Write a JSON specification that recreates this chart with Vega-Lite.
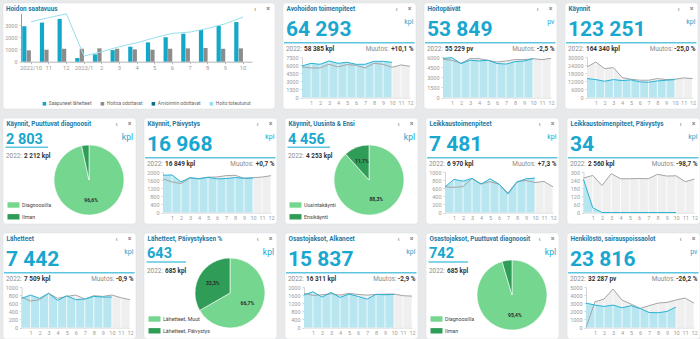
{
"$schema":"https://vega.github.io/schema/vega-lite/v6.json",
"background":"#e7e9ea",
"padding":{"left":2,"top":2,"right":0,"bottom":0},
"datasets":{
"hdr":[
{"p":"hs","t":"Hoidon saatavuus"},
{"p":"avo","t":"Avohoidon toimenpiteet","n":"64 293","u":"kpl","yl":"2022:","pv":"58 385 kpl","ml":"Muutos:","mv":"+10,1 %"},
{"p":"hp","t":"Hoitopäivät","n":"53 849","u":"pv","yl":"2022:","pv":"55 229 pv","ml":"Muutos:","mv":"-2,5 %"},
{"p":"kay","t":"Käynnit","n":"123 251","u":"kpl","yl":"2022:","pv":"164 340 kpl","ml":"Muutos:","mv":"-25,0 %"},
{"p":"kpd","t":"Käynnit, Puuttuvat diagnoosit","n":"2 803","u":"kpl","yl":"2022:","pv":"2 212 kpl"},
{"p":"kp","t":"Käynnit, Päivystys","n":"16 968","u":"kpl","yl":"2022:","pv":"16 849 kpl","ml":"Muutos:","mv":"+0,7 %"},
{"p":"kue","t":"Käynnit, Uusinta & Ensi","n":"4 456","u":"kpl","yl":"2022:","pv":"4 253 kpl"},
{"p":"lt","t":"Leikkaustoimenpiteet","n":"7 481","u":"kpl","yl":"2022:","pv":"6 970 kpl","ml":"Muutos:","mv":"+7,3 %"},
{"p":"ltp","t":"Leikkaustoimenpiteet, Päivystys","n":"34","u":"kpl","yl":"2022:","pv":"2 560 kpl","ml":"Muutos:","mv":"-98,7 %"},
{"p":"lah","t":"Lähetteet","n":"7 442","u":"kpl","yl":"2022:","pv":"7 509 kpl","ml":"Muutos:","mv":"-0,9 %"},
{"p":"lahp","t":"Lähetteet, Päivystyksen %","n":"643","u":"kpl","yl":"2022:","pv":"685 kpl"},
{"p":"oa","t":"Osastojaksot, Alkaneet","n":"15 837","u":"kpl","yl":"2022:","pv":"16 311 kpl","ml":"Muutos:","mv":"-2,9 %"},
{"p":"opd","t":"Osastojaksot, Puuttuvat diagnoosit","n":"742","u":"kpl","yl":"2022:","pv":"685 kpl"},
{"p":"hen","t":"Henkilöstö, sairauspoissaolot","n":"23 816","u":"pv","yl":"2022:","pv":"32 287 pv","ml":"Muutos:","mv":"-26,2 %"}
],
"hs":[
{"k":"2022/10","s":"Saapuneet lähetteet","v":2900},{"k":"2022/10","s":"Hoitoa odottavat","v":930},{"k":"2022/10","s":"Hoito toteutunut","v":3270},
{"k":"11","s":"Saapuneet lähetteet","v":3200},{"k":"11","s":"Hoitoa odottavat","v":980},{"k":"11","s":"Hoito toteutunut","v":3600},
{"k":"12","s":"Saapuneet lähetteet","v":3500},{"k":"12","s":"Hoitoa odottavat","v":1060},{"k":"12","s":"Hoito toteutunut","v":3920},
{"k":"2023/1","s":"Saapuneet lähetteet","v":300},{"k":"2023/1","s":"Hoitoa odottavat","v":1060},{"k":"2023/1","s":"Hoito toteutunut","v":463},
{"k":"2","s":"Saapuneet lähetteet","v":600},{"k":"2","s":"Hoitoa odottavat","v":1090},{"k":"2","s":"Hoito toteutunut","v":817},
{"k":"3","s":"Saapuneet lähetteet","v":950},{"k":"3","s":"Hoitoa odottavat","v":1060},{"k":"3","s":"Hoito toteutunut","v":1226},
{"k":"4","s":"Saapuneet lähetteet","v":1230},{"k":"4","s":"Hoitoa odottavat","v":1010},{"k":"4","s":"Hoito toteutunut","v":1553},
{"k":"5","s":"Saapuneet lähetteet","v":1580},{"k":"5","s":"Hoitoa odottavat","v":980},{"k":"5","s":"Hoito toteutunut","v":1962},
{"k":"6","s":"Saapuneet lähetteet","v":2000},{"k":"6","s":"Hoitoa odottavat","v":1060},{"k":"6","s":"Hoito toteutunut","v":2316},
{"k":"7","s":"Saapuneet lähetteet","v":2290},{"k":"7","s":"Hoitoa odottavat","v":1090},{"k":"7","s":"Hoito toteutunut","v":2425},
{"k":"8","s":"Saapuneet lähetteet","v":2590},{"k":"8","s":"Hoitoa odottavat","v":1120},{"k":"8","s":"Hoito toteutunut","v":2725},
{"k":"9","s":"Saapuneet lähetteet","v":2940},{"k":"9","s":"Hoitoa odottavat","v":1060},{"k":"9","s":"Hoito toteutunut","v":3106},
{"k":"10","s":"Saapuneet lähetteet","v":3240},{"k":"10","s":"Hoitoa odottavat","v":1090},{"k":"10","s":"Hoito toteutunut","v":3651}
],
"pie":[
{"p":"kpd","c":"Diagnoosilla","v":96.6,"lab":"96,6%"},{"p":"kpd","c":"Ilman","v":3.4,"lab":""},
{"p":"kue","c":"Uusintakäynti","v":88.3,"lab":"88,3%"},{"p":"kue","c":"Ensikäynti","v":11.7,"lab":"11,7%"},
{"p":"lahp","c":"Lähetteet, Muut","v":66.7,"lab":"66,7%"},{"p":"lahp","c":"Lähetteet, Päivystys","v":33.3,"lab":"33,3%"},
{"p":"opd","c":"Diagnoosilla","v":95.4,"lab":"95,4%"},{"p":"opd","c":"Ilman","v":4.6,"lab":""}
],
"kpi":[
{"p":"avo","s":"c","m":0,"v":5840},{"p":"avo","s":"c","m":1,"v":6330},{"p":"avo","s":"c","m":2,"v":6150},{"p":"avo","s":"c","m":3,"v":6770},{"p":"avo","s":"c","m":4,"v":6330},{"p":"avo","s":"c","m":5,"v":6520},{"p":"avo","s":"c","m":6,"v":6150},{"p":"avo","s":"c","m":7,"v":6150},{"p":"avo","s":"c","m":8,"v":6700},{"p":"avo","s":"c","m":9,"v":6700},{"p":"avo","s":"c","m":10,"v":6520},
{"p":"avo","s":"g","m":0,"v":5660},{"p":"avo","s":"g","m":1,"v":5470},{"p":"avo","s":"g","m":2,"v":5470},{"p":"avo","s":"g","m":3,"v":6150},{"p":"avo","s":"g","m":4,"v":5660},{"p":"avo","s":"g","m":5,"v":6090},{"p":"avo","s":"g","m":6,"v":5970},{"p":"avo","s":"g","m":7,"v":5470},{"p":"avo","s":"g","m":8,"v":6330},{"p":"avo","s":"g","m":9,"v":6150},{"p":"avo","s":"g","m":10,"v":5600},{"p":"avo","s":"g","m":11,"v":6030},{"p":"avo","s":"g","m":12,"v":5780},
{"p":"hp","s":"c","m":0,"v":5800},{"p":"hp","s":"c","m":1,"v":5900},{"p":"hp","s":"c","m":2,"v":5020},{"p":"hp","s":"c","m":3,"v":5530},{"p":"hp","s":"c","m":4,"v":5410},{"p":"hp","s":"c","m":5,"v":5510},{"p":"hp","s":"c","m":6,"v":5040},{"p":"hp","s":"c","m":7,"v":4950},{"p":"hp","s":"c","m":8,"v":5310},{"p":"hp","s":"c","m":9,"v":5410},{"p":"hp","s":"c","m":10,"v":5750},
{"p":"hp","s":"g","m":0,"v":5660},{"p":"hp","s":"g","m":1,"v":5510},{"p":"hp","s":"g","m":2,"v":5070},{"p":"hp","s":"g","m":3,"v":5760},{"p":"hp","s":"g","m":4,"v":5750},{"p":"hp","s":"g","m":5,"v":5510},{"p":"hp","s":"g","m":6,"v":5260},{"p":"hp","s":"g","m":7,"v":5410},{"p":"hp","s":"g","m":8,"v":5620},{"p":"hp","s":"g","m":9,"v":5610},{"p":"hp","s":"g","m":10,"v":5750},{"p":"hp","s":"g","m":11,"v":5610},{"p":"hp","s":"g","m":12,"v":5800},
{"p":"kay","s":"c","m":0,"v":14020},{"p":"kay","s":"c","m":1,"v":13280},{"p":"kay","s":"c","m":2,"v":12050},{"p":"kay","s":"c","m":3,"v":13280},{"p":"kay","s":"c","m":4,"v":12550},{"p":"kay","s":"c","m":5,"v":13040},{"p":"kay","s":"c","m":6,"v":11560},{"p":"kay","s":"c","m":7,"v":11320},{"p":"kay","s":"c","m":8,"v":12300},{"p":"kay","s":"c","m":9,"v":12790},{"p":"kay","s":"c","m":10,"v":13280},
{"p":"kay","s":"g","m":0,"v":22630},{"p":"kay","s":"g","m":1,"v":26320},{"p":"kay","s":"g","m":2,"v":21400},{"p":"kay","s":"g","m":3,"v":22140},{"p":"kay","s":"g","m":4,"v":14760},{"p":"kay","s":"g","m":5,"v":13530},{"p":"kay","s":"g","m":6,"v":12790},{"p":"kay","s":"g","m":7,"v":12790},{"p":"kay","s":"g","m":8,"v":14020},{"p":"kay","s":"g","m":9,"v":13280},{"p":"kay","s":"g","m":10,"v":13530},{"p":"kay","s":"g","m":11,"v":14510},{"p":"kay","s":"g","m":12,"v":14020},
{"p":"kp","s":"c","m":0,"v":1840},{"p":"kp","s":"c","m":1,"v":1855},{"p":"kp","s":"c","m":2,"v":1510},{"p":"kp","s":"c","m":3,"v":1720},{"p":"kp","s":"c","m":4,"v":1660},{"p":"kp","s":"c","m":5,"v":1740},{"p":"kp","s":"c","m":6,"v":1660},{"p":"kp","s":"c","m":7,"v":1675},{"p":"kp","s":"c","m":8,"v":1725},{"p":"kp","s":"c","m":9,"v":1690},{"p":"kp","s":"c","m":10,"v":1700},
{"p":"kp","s":"g","m":0,"v":1660},{"p":"kp","s":"g","m":1,"v":1510},{"p":"kp","s":"g","m":2,"v":1430},{"p":"kp","s":"g","m":3,"v":1705},{"p":"kp","s":"g","m":4,"v":1675},{"p":"kp","s":"g","m":5,"v":1740},{"p":"kp","s":"g","m":6,"v":1755},{"p":"kp","s":"g","m":7,"v":1820},{"p":"kp","s":"g","m":8,"v":1840},{"p":"kp","s":"g","m":9,"v":1690},{"p":"kp","s":"g","m":10,"v":1720},{"p":"kp","s":"g","m":11,"v":1750},{"p":"kp","s":"g","m":12,"v":1820},
{"p":"lt","s":"c","m":0,"v":633},{"p":"lt","s":"c","m":1,"v":817},{"p":"lt","s":"c","m":2,"v":775},{"p":"lt","s":"c","m":3,"v":842},{"p":"lt","s":"c","m":4,"v":700},{"p":"lt","s":"c","m":5,"v":833},{"p":"lt","s":"c","m":6,"v":700},{"p":"lt","s":"c","m":7,"v":458},{"p":"lt","s":"c","m":8,"v":750},{"p":"lt","s":"c","m":9,"v":833},{"p":"lt","s":"c","m":10,"v":850},
{"p":"lt","s":"g","m":0,"v":633},{"p":"lt","s":"g","m":1,"v":620},{"p":"lt","s":"g","m":2,"v":640},{"p":"lt","s":"g","m":3,"v":842},{"p":"lt","s":"g","m":4,"v":708},{"p":"lt","s":"g","m":5,"v":760},{"p":"lt","s":"g","m":6,"v":700},{"p":"lt","s":"g","m":7,"v":483},{"p":"lt","s":"g","m":8,"v":767},{"p":"lt","s":"g","m":9,"v":790},{"p":"lt","s":"g","m":10,"v":740},{"p":"lt","s":"g","m":11,"v":767},{"p":"lt","s":"g","m":12,"v":633},
{"p":"ltp","s":"c","m":0,"v":245},{"p":"ltp","s":"c","m":1,"v":35},{"p":"ltp","s":"c","m":2,"v":0},{"p":"ltp","s":"c","m":3,"v":0},{"p":"ltp","s":"c","m":4,"v":0},{"p":"ltp","s":"c","m":5,"v":0},{"p":"ltp","s":"c","m":6,"v":0},{"p":"ltp","s":"c","m":7,"v":0},{"p":"ltp","s":"c","m":8,"v":0},{"p":"ltp","s":"c","m":9,"v":0},{"p":"ltp","s":"c","m":10,"v":0},
{"p":"ltp","s":"g","m":0,"v":255},{"p":"ltp","s":"g","m":1,"v":275},{"p":"ltp","s":"g","m":2,"v":200},{"p":"ltp","s":"g","m":3,"v":288},{"p":"ltp","s":"g","m":4,"v":250},{"p":"ltp","s":"g","m":5,"v":250},{"p":"ltp","s":"g","m":6,"v":252},{"p":"ltp","s":"g","m":7,"v":250},{"p":"ltp","s":"g","m":8,"v":283},{"p":"ltp","s":"g","m":9,"v":270},{"p":"ltp","s":"g","m":10,"v":272},{"p":"ltp","s":"g","m":11,"v":228},{"p":"ltp","s":"g","m":12,"v":248},
{"p":"lah","s":"c","m":0,"v":719},{"p":"lah","s":"c","m":1,"v":802},{"p":"lah","s":"c","m":2,"v":719},{"p":"lah","s":"c","m":3,"v":843},{"p":"lah","s":"c","m":4,"v":669},{"p":"lah","s":"c","m":5,"v":785},{"p":"lah","s":"c","m":6,"v":686},{"p":"lah","s":"c","m":7,"v":702},{"p":"lah","s":"c","m":8,"v":768},{"p":"lah","s":"c","m":9,"v":752},{"p":"lah","s":"c","m":10,"v":752},
{"p":"lah","s":"g","m":0,"v":752},{"p":"lah","s":"g","m":1,"v":653},{"p":"lah","s":"g","m":2,"v":686},{"p":"lah","s":"g","m":3,"v":843},{"p":"lah","s":"g","m":4,"v":719},{"p":"lah","s":"g","m":5,"v":768},{"p":"lah","s":"g","m":6,"v":802},{"p":"lah","s":"g","m":7,"v":702},{"p":"lah","s":"g","m":8,"v":785},{"p":"lah","s":"g","m":9,"v":768},{"p":"lah","s":"g","m":10,"v":802},{"p":"lah","s":"g","m":11,"v":735},{"p":"lah","s":"g","m":12,"v":686},
{"p":"oa","s":"c","m":0,"v":1600},{"p":"oa","s":"c","m":1,"v":1765},{"p":"oa","s":"c","m":2,"v":1500},{"p":"oa","s":"c","m":3,"v":1733},{"p":"oa","s":"c","m":4,"v":1485},{"p":"oa","s":"c","m":5,"v":1650},{"p":"oa","s":"c","m":6,"v":1535},{"p":"oa","s":"c","m":7,"v":1400},{"p":"oa","s":"c","m":8,"v":1635},{"p":"oa","s":"c","m":9,"v":1617},{"p":"oa","s":"c","m":10,"v":1635},
{"p":"oa","s":"g","m":0,"v":1683},{"p":"oa","s":"g","m":1,"v":1585},{"p":"oa","s":"g","m":2,"v":1617},{"p":"oa","s":"g","m":3,"v":1667},{"p":"oa","s":"g","m":4,"v":1600},{"p":"oa","s":"g","m":5,"v":1683},{"p":"oa","s":"g","m":6,"v":1635},{"p":"oa","s":"g","m":7,"v":1600},{"p":"oa","s":"g","m":8,"v":1635},{"p":"oa","s":"g","m":9,"v":1650},{"p":"oa","s":"g","m":10,"v":1650},{"p":"oa","s":"g","m":11,"v":1570},{"p":"oa","s":"g","m":12,"v":1550},
{"p":"hen","s":"c","m":0,"v":3015},{"p":"hen","s":"c","m":1,"v":2770},{"p":"hen","s":"c","m":2,"v":2600},{"p":"hen","s":"c","m":3,"v":2770},{"p":"hen","s":"c","m":4,"v":2440},{"p":"hen","s":"c","m":5,"v":2690},{"p":"hen","s":"c","m":6,"v":2355},{"p":"hen","s":"c","m":7,"v":1860},{"p":"hen","s":"c","m":8,"v":1820},{"p":"hen","s":"c","m":9,"v":1985},{"p":"hen","s":"c","m":10,"v":2520},
{"p":"hen","s":"g","m":0,"v":0},{"p":"hen","s":"g","m":1,"v":3180},{"p":"hen","s":"g","m":2,"v":3510},{"p":"hen","s":"g","m":3,"v":4750},{"p":"hen","s":"g","m":4,"v":3390},{"p":"hen","s":"g","m":5,"v":2890},{"p":"hen","s":"g","m":6,"v":2355},{"p":"hen","s":"g","m":7,"v":2690},{"p":"hen","s":"g","m":8,"v":3015},{"p":"hen","s":"g","m":9,"v":3100},{"p":"hen","s":"g","m":10,"v":3390},{"p":"hen","s":"g","m":11,"v":3640},{"p":"hen","s":"g","m":12,"v":3015}
]
},
"spacing":7,
"resolve":{"scale":{"color":"independent","theta":"independent"},"legend":{"color":"independent"}},
"vconcat":[
{"spacing":6,"resolve":{"scale":{"color":"independent","theta":"independent"},"legend":{"color":"independent"}},"hconcat":[
{"width":272,"height":106,"layer":[
 {"data":{"name":"hs"},
  "encoding":{
   "x":{"field":"k","type":"ordinal","title":null,"scale":{"domain":["2022/10","11","12","2023/1","2","3","4","5","6","7","8","9","10"],"range":[19.2,248.9],"paddingInner":0,"paddingOuter":0},"axis":{"offset":-47.3,"labelAngle":0,"tickSize":2,"labelPadding":1,"labelFontSize":5.8,"domainColor":"#b5b5b5","tickColor":"#b5b5b5"}},
   "y":{"field":"v","type":"quantitative","title":null,"scale":{"domain":[0,3950],"range":[58.7,10.4],"nice":false},"axis":{"values":[0,1000,2000,3000],"offset":-18,"format":"d","domainColor":"#999999"}},
   "color":{"field":"s","type":"nominal","scale":{"domain":["Saapuneet lähetteet","Hoitoa odottavat","Arvioinnin odottavat","Hoito toteutunut"],"range":["#13a8c8","#8c8c8c","#0d6e89","#95e0ec"]},"legend":{"orient":"none","legendX":39,"legendY":98,"direction":"horizontal","title":null,"symbolType":"square","symbolSize":13,"labelFontSize":4.8,"labelColor":"#666666","columnPadding":8,"labelOffset":2}}},
  "layer":[
   {"transform":[{"filter":"datum.s != 'Hoito toteutunut'"}],"mark":{"type":"bar"},"encoding":{"xOffset":{"field":"s","scale":{"domain":["Saapuneet lähetteet","Hoitoa odottavat","Arvioinnin odottavat","Hoito toteutunut"],"paddingInner":0.06}}}},
   {"transform":[{"filter":"datum.s == 'Hoito toteutunut'"}],"mark":{"type":"line","strokeWidth":1}}
  ]},
 {"data":{"name":"hdr"},"transform":[{"filter":"datum.p == 'hs'"}],"layer":[
  {"mark":{"type":"text","style":"ttl"},"encoding":{"x":{"value":3},"y":{"value":7.5},"text":{"field":"t"}}},
  {"mark":{"type":"text","style":"ico"},"encoding":{"x":{"value":252},"y":{"value":6},"text":{"value":"‹"}}},
  {"mark":{"type":"text","style":"ico"},"encoding":{"x":{"value":265},"y":{"value":6},"text":{"value":"×"}}}
 ]}
]},
{"width":133,"height":106,"layer":[
 {"data":{"name":"kpi"},"transform":[{"filter":"datum.p == 'avo'"}],
  "encoding":{"x":{"field":"m","type":"quantitative","title":null,"scale":{"domain":[0,12],"range":[19,127],"nice":false,"zero":false},"axis":{"values":[1,2,3,4,5,6,7,8,9,10,11,12],"offset":-11.5,"ticks":false,"labelPadding":2.5}},
   "y":{"field":"v","type":"quantitative","title":null,"scale":{"domain":[0,7500],"range":[94.5,54],"nice":false},"axis":{"values":[0,1500,3000,4500,6000,7500],"offset":-19,"format":"d"}}},
  "layer":[
   {"transform":[{"filter":"datum.s == 'g'"}],"mark":{"type":"area","color":"#efefef"}},
   {"transform":[{"filter":"datum.s == 'c'"}],"mark":{"type":"area","color":"#b7e5f0"}},
   {"transform":[{"filter":"datum.s == 'g' && datum.m >= 1"}],"mark":{"type":"rule","color":"#ffffff","strokeWidth":0.8},"encoding":{"y":{"datum":0},"y2":{"datum":7500}}},
   {"transform":[{"filter":"datum.s == 'g'"}],"mark":{"type":"line","color":"#a5a5a5","strokeWidth":1}},
   {"transform":[{"filter":"datum.s == 'c'"}],"mark":{"type":"line","color":"#2ab3d5","strokeWidth":1}}]},
 {"data":{"name":"hdr"},"transform":[{"filter":"datum.p == 'avo'"}],"layer":[
  {"mark":{"type":"text","style":"ttl"},"encoding":{"x":{"value":3.5},"y":{"value":7.5},"text":{"field":"t"}}},
  {"mark":{"type":"text","style":"ico"},"encoding":{"x":{"value":113.5},"y":{"value":6},"text":{"value":"‹"}}},
  {"mark":{"type":"text","style":"ico"},"encoding":{"x":{"value":126.5},"y":{"value":6},"text":{"value":"×"}}},
  {"mark":{"type":"text","style":"big"},"encoding":{"x":{"value":3},"y":{"value":32.5},"text":{"field":"n"}}},
  {"mark":{"type":"text","style":"unit"},"encoding":{"x":{"value":130.5},"y":{"value":20.5},"text":{"field":"u"}}},
  {"mark":{"type":"rule","style":"ul"},"encoding":{"x":{"value":1},"x2":{"value":131.5},"y":{"value":39.8}}},
  {"mark":{"type":"text","style":"lab"},"encoding":{"x":{"value":3},"y":{"value":48},"text":{"field":"yl"}}},
  {"mark":{"type":"text","style":"val"},"encoding":{"x":{"value":21},"y":{"value":48},"text":{"field":"pv"}}},
  {"mark":{"type":"text","style":"labr"},"encoding":{"x":{"value":105.9},"y":{"value":48},"text":{"field":"ml"}}},
  {"mark":{"type":"text","style":"valr"},"encoding":{"x":{"value":130.5},"y":{"value":48},"text":{"field":"mv"}}}
 ]}
]},
{"width":133,"height":106,"layer":[
 {"data":{"name":"kpi"},"transform":[{"filter":"datum.p == 'hp'"}],
  "encoding":{"x":{"field":"m","type":"quantitative","title":null,"scale":{"domain":[0,12],"range":[19,127],"nice":false,"zero":false},"axis":{"values":[1,2,3,4,5,6,7,8,9,10,11,12],"offset":-11.5,"ticks":false,"labelPadding":2.5}},
   "y":{"field":"v","type":"quantitative","title":null,"scale":{"domain":[0,6000],"range":[94.5,54],"nice":false},"axis":{"values":[0,1500,3000,4500,6000],"offset":-19,"format":"d"}}},
  "layer":[
   {"transform":[{"filter":"datum.s == 'g'"}],"mark":{"type":"area","color":"#efefef"}},
   {"transform":[{"filter":"datum.s == 'c'"}],"mark":{"type":"area","color":"#b7e5f0"}},
   {"transform":[{"filter":"datum.s == 'g' && datum.m >= 1"}],"mark":{"type":"rule","color":"#ffffff","strokeWidth":0.8},"encoding":{"y":{"datum":0},"y2":{"datum":6000}}},
   {"transform":[{"filter":"datum.s == 'g'"}],"mark":{"type":"line","color":"#a5a5a5","strokeWidth":1}},
   {"transform":[{"filter":"datum.s == 'c'"}],"mark":{"type":"line","color":"#2ab3d5","strokeWidth":1}}]},
 {"data":{"name":"hdr"},"transform":[{"filter":"datum.p == 'hp'"}],"layer":[
  {"mark":{"type":"text","style":"ttl"},"encoding":{"x":{"value":3.5},"y":{"value":7.5},"text":{"field":"t"}}},
  {"mark":{"type":"text","style":"ico"},"encoding":{"x":{"value":113.5},"y":{"value":6},"text":{"value":"‹"}}},
  {"mark":{"type":"text","style":"ico"},"encoding":{"x":{"value":126.5},"y":{"value":6},"text":{"value":"×"}}},
  {"mark":{"type":"text","style":"big"},"encoding":{"x":{"value":3},"y":{"value":32.5},"text":{"field":"n"}}},
  {"mark":{"type":"text","style":"unit"},"encoding":{"x":{"value":130.5},"y":{"value":20.5},"text":{"field":"u"}}},
  {"mark":{"type":"rule","style":"ul"},"encoding":{"x":{"value":1},"x2":{"value":131.5},"y":{"value":39.8}}},
  {"mark":{"type":"text","style":"lab"},"encoding":{"x":{"value":3},"y":{"value":48},"text":{"field":"yl"}}},
  {"mark":{"type":"text","style":"val"},"encoding":{"x":{"value":21},"y":{"value":48},"text":{"field":"pv"}}},
  {"mark":{"type":"text","style":"labr"},"encoding":{"x":{"value":111.4},"y":{"value":48},"text":{"field":"ml"}}},
  {"mark":{"type":"text","style":"valr"},"encoding":{"x":{"value":130.5},"y":{"value":48},"text":{"field":"mv"}}}
 ]}
]},
{"width":133,"height":106,"layer":[
 {"data":{"name":"kpi"},"transform":[{"filter":"datum.p == 'kay'"}],
  "encoding":{"x":{"field":"m","type":"quantitative","title":null,"scale":{"domain":[0,12],"range":[22,127.5],"nice":false,"zero":false},"axis":{"values":[1,2,3,4,5,6,7,8,9,10,11,12],"offset":-11.5,"ticks":false,"labelPadding":2.5}},
   "y":{"field":"v","type":"quantitative","title":null,"scale":{"domain":[0,30000],"range":[94.5,54],"nice":false},"axis":{"values":[0,6000,12000,18000,24000,30000],"offset":-22,"format":"d"}}},
  "layer":[
   {"transform":[{"filter":"datum.s == 'g'"}],"mark":{"type":"area","color":"#efefef"}},
   {"transform":[{"filter":"datum.s == 'c'"}],"mark":{"type":"area","color":"#b7e5f0"}},
   {"transform":[{"filter":"datum.s == 'g' && datum.m >= 1"}],"mark":{"type":"rule","color":"#ffffff","strokeWidth":0.8},"encoding":{"y":{"datum":0},"y2":{"datum":30000}}},
   {"transform":[{"filter":"datum.s == 'g'"}],"mark":{"type":"line","color":"#a5a5a5","strokeWidth":1}},
   {"transform":[{"filter":"datum.s == 'c'"}],"mark":{"type":"line","color":"#2ab3d5","strokeWidth":1}}]},
 {"data":{"name":"hdr"},"transform":[{"filter":"datum.p == 'kay'"}],"layer":[
  {"mark":{"type":"text","style":"ttl"},"encoding":{"x":{"value":3.5},"y":{"value":7.5},"text":{"field":"t"}}},
  {"mark":{"type":"text","style":"ico"},"encoding":{"x":{"value":113.5},"y":{"value":6},"text":{"value":"‹"}}},
  {"mark":{"type":"text","style":"ico"},"encoding":{"x":{"value":126.5},"y":{"value":6},"text":{"value":"×"}}},
  {"mark":{"type":"text","style":"big"},"encoding":{"x":{"value":3},"y":{"value":32.5},"text":{"field":"n"}}},
  {"mark":{"type":"text","style":"unit"},"encoding":{"x":{"value":130.5},"y":{"value":20.5},"text":{"field":"u"}}},
  {"mark":{"type":"rule","style":"ul"},"encoding":{"x":{"value":1},"x2":{"value":131.5},"y":{"value":39.8}}},
  {"mark":{"type":"text","style":"lab"},"encoding":{"x":{"value":3},"y":{"value":48},"text":{"field":"yl"}}},
  {"mark":{"type":"text","style":"val"},"encoding":{"x":{"value":21},"y":{"value":48},"text":{"field":"pv"}}},
  {"mark":{"type":"text","style":"labr"},"encoding":{"x":{"value":107.8},"y":{"value":48},"text":{"field":"ml"}}},
  {"mark":{"type":"text","style":"valr"},"encoding":{"x":{"value":130.5},"y":{"value":48},"text":{"field":"mv"}}}
 ]}
]}
]},
{"spacing":6,"resolve":{"scale":{"color":"independent","theta":"independent"},"legend":{"color":"independent"}},"hconcat":[
{"width":133,"height":106,"layer":[
 {"data":{"name":"pie"},"transform":[{"filter":"datum.p == 'kpd'"}],
  "encoding":{"theta":{"field":"v","type":"quantitative","stack":true},"order":{"field":"v","type":"quantitative","sort":"descending"},"x":{"value":86},"y":{"value":62}},
  "layer":[
   {"mark":{"type":"arc","outerRadius":35,"stroke":"#ffffff","strokeWidth":0.6},"encoding":{"color":{"field":"c","type":"nominal","scale":{"domain":["Diagnoosilla","Ilman"],"range":["#75d68f","#2f9d57"]},"legend":{"orient":"none","legendX":4.5,"legendY":81,"title":null}}}},
   {"mark":{"type":"text","style":"pl","radius":20},"encoding":{"text":{"field":"lab"}}}]},
 {"data":{"name":"hdr"},"transform":[{"filter":"datum.p == 'kpd'"}],"layer":[
  {"mark":{"type":"text","style":"ttl"},"encoding":{"x":{"value":3.5},"y":{"value":7.5},"text":{"field":"t"}}},
  {"mark":{"type":"text","style":"ico"},"encoding":{"x":{"value":113.5},"y":{"value":6},"text":{"value":"‹"}}},
  {"mark":{"type":"text","style":"ico"},"encoding":{"x":{"value":126.5},"y":{"value":6},"text":{"value":"×"}}},
  {"mark":{"type":"text","style":"bigs"},"encoding":{"x":{"value":3},"y":{"value":26},"text":{"field":"n"}}},
  {"mark":{"type":"text","style":"units"},"encoding":{"x":{"value":130},"y":{"value":21.5},"text":{"field":"u"}}},
  {"mark":{"type":"rule","style":"ul"},"encoding":{"x":{"value":2.5},"x2":{"value":45},"y":{"value":29.3}}},
  {"mark":{"type":"text","style":"lab"},"encoding":{"x":{"value":3},"y":{"value":40}, "text":{"field":"yl"}}},
  {"mark":{"type":"text","style":"val"},"encoding":{"x":{"value":21},"y":{"value":40},"text":{"field":"pv"}}}
 ]}
]},
{"width":133,"height":106,"layer":[
 {"data":{"name":"kpi"},"transform":[{"filter":"datum.p == 'kp'"}],
  "encoding":{"x":{"field":"m","type":"quantitative","title":null,"scale":{"domain":[0,12],"range":[19,127],"nice":false,"zero":false},"axis":{"values":[1,2,3,4,5,6,7,8,9,10,11,12],"offset":-11.5,"ticks":false,"labelPadding":2.5}},
   "y":{"field":"v","type":"quantitative","title":null,"scale":{"domain":[0,2000],"range":[94.5,54],"nice":false},"axis":{"values":[0,400,800,1200,1600,2000],"offset":-19,"format":"d"}}},
  "layer":[
   {"transform":[{"filter":"datum.s == 'g'"}],"mark":{"type":"area","color":"#efefef"}},
   {"transform":[{"filter":"datum.s == 'c'"}],"mark":{"type":"area","color":"#b7e5f0"}},
   {"transform":[{"filter":"datum.s == 'g' && datum.m >= 1"}],"mark":{"type":"rule","color":"#ffffff","strokeWidth":0.8},"encoding":{"y":{"datum":0},"y2":{"datum":2000}}},
   {"transform":[{"filter":"datum.s == 'g'"}],"mark":{"type":"line","color":"#a5a5a5","strokeWidth":1}},
   {"transform":[{"filter":"datum.s == 'c'"}],"mark":{"type":"line","color":"#2ab3d5","strokeWidth":1}}]},
 {"data":{"name":"hdr"},"transform":[{"filter":"datum.p == 'kp'"}],"layer":[
  {"mark":{"type":"text","style":"ttl"},"encoding":{"x":{"value":3.5},"y":{"value":7.5},"text":{"field":"t"}}},
  {"mark":{"type":"text","style":"ico"},"encoding":{"x":{"value":113.5},"y":{"value":6},"text":{"value":"‹"}}},
  {"mark":{"type":"text","style":"ico"},"encoding":{"x":{"value":126.5},"y":{"value":6},"text":{"value":"×"}}},
  {"mark":{"type":"text","style":"big"},"encoding":{"x":{"value":3},"y":{"value":32.5},"text":{"field":"n"}}},
  {"mark":{"type":"text","style":"unit"},"encoding":{"x":{"value":130.5},"y":{"value":20.5},"text":{"field":"u"}}},
  {"mark":{"type":"rule","style":"ul"},"encoding":{"x":{"value":1},"x2":{"value":131.5},"y":{"value":39.8}}},
  {"mark":{"type":"text","style":"lab"},"encoding":{"x":{"value":3},"y":{"value":48},"text":{"field":"yl"}}},
  {"mark":{"type":"text","style":"val"},"encoding":{"x":{"value":21},"y":{"value":48},"text":{"field":"pv"}}},
  {"mark":{"type":"text","style":"labr"},"encoding":{"x":{"value":109.5},"y":{"value":48},"text":{"field":"ml"}}},
  {"mark":{"type":"text","style":"valr"},"encoding":{"x":{"value":130.5},"y":{"value":48},"text":{"field":"mv"}}}
 ]}
]},
{"width":133,"height":106,"layer":[
 {"data":{"name":"pie"},"transform":[{"filter":"datum.p == 'kue'"}],
  "encoding":{"theta":{"field":"v","type":"quantitative","stack":true},"order":{"field":"v","type":"quantitative","sort":"descending"},"x":{"value":84},"y":{"value":62}},
  "layer":[
   {"mark":{"type":"arc","outerRadius":35,"stroke":"#ffffff","strokeWidth":0.6},"encoding":{"color":{"field":"c","type":"nominal","scale":{"domain":["Uusintakäynti","Ensikäynti"],"range":["#75d68f","#2f9d57"]},"legend":{"orient":"none","legendX":4.5,"legendY":81,"title":null}}}},
   {"mark":{"type":"text","style":"pl","radius":20},"encoding":{"text":{"field":"lab"}}}]},
 {"data":{"name":"hdr"},"transform":[{"filter":"datum.p == 'kue'"}],"layer":[
  {"mark":{"type":"text","style":"ttl"},"encoding":{"x":{"value":3.5},"y":{"value":7.5},"text":{"field":"t"}}},
  {"mark":{"type":"text","style":"ico"},"encoding":{"x":{"value":113.5},"y":{"value":6},"text":{"value":"‹"}}},
  {"mark":{"type":"text","style":"ico"},"encoding":{"x":{"value":126.5},"y":{"value":6},"text":{"value":"×"}}},
  {"mark":{"type":"text","style":"bigs"},"encoding":{"x":{"value":3},"y":{"value":26},"text":{"field":"n"}}},
  {"mark":{"type":"text","style":"units"},"encoding":{"x":{"value":130},"y":{"value":21.5},"text":{"field":"u"}}},
  {"mark":{"type":"rule","style":"ul"},"encoding":{"x":{"value":2.5},"x2":{"value":45},"y":{"value":29.3}}},
  {"mark":{"type":"text","style":"lab"},"encoding":{"x":{"value":3},"y":{"value":40},"text":{"field":"yl"}}},
  {"mark":{"type":"text","style":"val"},"encoding":{"x":{"value":21},"y":{"value":40},"text":{"field":"pv"}}}
 ]}
]},
{"width":133,"height":106,"layer":[
 {"data":{"name":"kpi"},"transform":[{"filter":"datum.p == 'lt'"}],
  "encoding":{"x":{"field":"m","type":"quantitative","title":null,"scale":{"domain":[0,12],"range":[19,127],"nice":false,"zero":false},"axis":{"values":[1,2,3,4,5,6,7,8,9,10,11,12],"offset":-11.5,"ticks":false,"labelPadding":2.5}},
   "y":{"field":"v","type":"quantitative","title":null,"scale":{"domain":[0,1000],"range":[94.5,54],"nice":false},"axis":{"values":[0,200,400,600,800,1000],"offset":-19,"format":"d"}}},
  "layer":[
   {"transform":[{"filter":"datum.s == 'g'"}],"mark":{"type":"area","color":"#efefef"}},
   {"transform":[{"filter":"datum.s == 'c'"}],"mark":{"type":"area","color":"#b7e5f0"}},
   {"transform":[{"filter":"datum.s == 'g' && datum.m >= 1"}],"mark":{"type":"rule","color":"#ffffff","strokeWidth":0.8},"encoding":{"y":{"datum":0},"y2":{"datum":1000}}},
   {"transform":[{"filter":"datum.s == 'g'"}],"mark":{"type":"line","color":"#a5a5a5","strokeWidth":1}},
   {"transform":[{"filter":"datum.s == 'c'"}],"mark":{"type":"line","color":"#2ab3d5","strokeWidth":1}}]},
 {"data":{"name":"hdr"},"transform":[{"filter":"datum.p == 'lt'"}],"layer":[
  {"mark":{"type":"text","style":"ttl"},"encoding":{"x":{"value":3.5},"y":{"value":7.5},"text":{"field":"t"}}},
  {"mark":{"type":"text","style":"ico"},"encoding":{"x":{"value":113.5},"y":{"value":6},"text":{"value":"‹"}}},
  {"mark":{"type":"text","style":"ico"},"encoding":{"x":{"value":126.5},"y":{"value":6},"text":{"value":"×"}}},
  {"mark":{"type":"text","style":"big"},"encoding":{"x":{"value":3},"y":{"value":32.5},"text":{"field":"n"}}},
  {"mark":{"type":"text","style":"unit"},"encoding":{"x":{"value":130.5},"y":{"value":20.5},"text":{"field":"u"}}},
  {"mark":{"type":"rule","style":"ul"},"encoding":{"x":{"value":1},"x2":{"value":131.5},"y":{"value":39.8}}},
  {"mark":{"type":"text","style":"lab"},"encoding":{"x":{"value":3},"y":{"value":48},"text":{"field":"yl"}}},
  {"mark":{"type":"text","style":"val"},"encoding":{"x":{"value":21},"y":{"value":48},"text":{"field":"pv"}}},
  {"mark":{"type":"text","style":"labr"},"encoding":{"x":{"value":109.5},"y":{"value":48},"text":{"field":"ml"}}},
  {"mark":{"type":"text","style":"valr"},"encoding":{"x":{"value":130.5},"y":{"value":48},"text":{"field":"mv"}}}
 ]}
]},
{"width":133,"height":106,"layer":[
 {"data":{"name":"kpi"},"transform":[{"filter":"datum.p == 'ltp'"}],
  "encoding":{"x":{"field":"m","type":"quantitative","title":null,"scale":{"domain":[0,12],"range":[16.5,127.5],"nice":false,"zero":false},"axis":{"values":[1,2,3,4,5,6,7,8,9,10,11,12],"offset":-11.5,"ticks":false,"labelPadding":2.5}},
   "y":{"field":"v","type":"quantitative","title":null,"scale":{"domain":[0,300],"range":[94.5,54],"nice":false},"axis":{"values":[0,60,120,180,240,300],"offset":-16.5,"format":"d"}}},
  "layer":[
   {"transform":[{"filter":"datum.s == 'g'"}],"mark":{"type":"area","color":"#efefef"}},
   {"transform":[{"filter":"datum.s == 'c'"}],"mark":{"type":"area","color":"#b7e5f0"}},
   {"transform":[{"filter":"datum.s == 'g' && datum.m >= 1"}],"mark":{"type":"rule","color":"#ffffff","strokeWidth":0.8},"encoding":{"y":{"datum":0},"y2":{"datum":300}}},
   {"transform":[{"filter":"datum.s == 'g'"}],"mark":{"type":"line","color":"#a5a5a5","strokeWidth":1}},
   {"transform":[{"filter":"datum.s == 'c'"}],"mark":{"type":"line","color":"#2ab3d5","strokeWidth":1}}]},
 {"data":{"name":"hdr"},"transform":[{"filter":"datum.p == 'ltp'"}],"layer":[
  {"mark":{"type":"text","style":"ttl"},"encoding":{"x":{"value":3.5},"y":{"value":7.5},"text":{"field":"t"}}},
  {"mark":{"type":"text","style":"ico"},"encoding":{"x":{"value":113.5},"y":{"value":6},"text":{"value":"‹"}}},
  {"mark":{"type":"text","style":"ico"},"encoding":{"x":{"value":126.5},"y":{"value":6},"text":{"value":"×"}}},
  {"mark":{"type":"text","style":"big"},"encoding":{"x":{"value":3},"y":{"value":32.5},"text":{"field":"n"}}},
  {"mark":{"type":"text","style":"unit"},"encoding":{"x":{"value":130.5},"y":{"value":20.5},"text":{"field":"u"}}},
  {"mark":{"type":"rule","style":"ul"},"encoding":{"x":{"value":1},"x2":{"value":131.5},"y":{"value":39.8}}},
  {"mark":{"type":"text","style":"lab"},"encoding":{"x":{"value":3},"y":{"value":48},"text":{"field":"yl"}}},
  {"mark":{"type":"text","style":"val"},"encoding":{"x":{"value":21},"y":{"value":48},"text":{"field":"pv"}}},
  {"mark":{"type":"text","style":"labr"},"encoding":{"x":{"value":107.8},"y":{"value":48},"text":{"field":"ml"}}},
  {"mark":{"type":"text","style":"valr"},"encoding":{"x":{"value":130.5},"y":{"value":48},"text":{"field":"mv"}}}
 ]}
]}
]},
{"spacing":6,"resolve":{"scale":{"color":"independent","theta":"independent"},"legend":{"color":"independent"}},"hconcat":[
{"width":133,"height":106,"layer":[
 {"data":{"name":"kpi"},"transform":[{"filter":"datum.p == 'lah'"}],
  "encoding":{"x":{"field":"m","type":"quantitative","title":null,"scale":{"domain":[0,12],"range":[18.5,127],"nice":false,"zero":false},"axis":{"values":[1,2,3,4,5,6,7,8,9,10,11,12],"offset":-11.5,"ticks":false,"labelPadding":2.5}},
   "y":{"field":"v","type":"quantitative","title":null,"scale":{"domain":[0,1000],"range":[94.5,54],"nice":false},"axis":{"values":[0,200,400,600,800,1000],"offset":-18.5,"format":"d"}}},
  "layer":[
   {"transform":[{"filter":"datum.s == 'g'"}],"mark":{"type":"area","color":"#efefef"}},
   {"transform":[{"filter":"datum.s == 'c'"}],"mark":{"type":"area","color":"#b7e5f0"}},
   {"transform":[{"filter":"datum.s == 'g' && datum.m >= 1"}],"mark":{"type":"rule","color":"#ffffff","strokeWidth":0.8},"encoding":{"y":{"datum":0},"y2":{"datum":1000}}},
   {"transform":[{"filter":"datum.s == 'g'"}],"mark":{"type":"line","color":"#a5a5a5","strokeWidth":1}},
   {"transform":[{"filter":"datum.s == 'c'"}],"mark":{"type":"line","color":"#2ab3d5","strokeWidth":1}}]},
 {"data":{"name":"hdr"},"transform":[{"filter":"datum.p == 'lah'"}],"layer":[
  {"mark":{"type":"text","style":"ttl"},"encoding":{"x":{"value":3.5},"y":{"value":7.5},"text":{"field":"t"}}},
  {"mark":{"type":"text","style":"ico"},"encoding":{"x":{"value":113.5},"y":{"value":6},"text":{"value":"‹"}}},
  {"mark":{"type":"text","style":"ico"},"encoding":{"x":{"value":126.5},"y":{"value":6},"text":{"value":"×"}}},
  {"mark":{"type":"text","style":"big"},"encoding":{"x":{"value":3},"y":{"value":32.5},"text":{"field":"n"}}},
  {"mark":{"type":"text","style":"unit"},"encoding":{"x":{"value":130.5},"y":{"value":20.5},"text":{"field":"u"}}},
  {"mark":{"type":"rule","style":"ul"},"encoding":{"x":{"value":1},"x2":{"value":131.5},"y":{"value":39.8}}},
  {"mark":{"type":"text","style":"lab"},"encoding":{"x":{"value":3},"y":{"value":48},"text":{"field":"yl"}}},
  {"mark":{"type":"text","style":"val"},"encoding":{"x":{"value":21},"y":{"value":48},"text":{"field":"pv"}}},
  {"mark":{"type":"text","style":"labr"},"encoding":{"x":{"value":111.4},"y":{"value":48},"text":{"field":"ml"}}},
  {"mark":{"type":"text","style":"valr"},"encoding":{"x":{"value":130.5},"y":{"value":48},"text":{"field":"mv"}}}
 ]}
]},
{"width":133,"height":106,"layer":[
 {"data":{"name":"pie"},"transform":[{"filter":"datum.p == 'lahp'"}],
  "encoding":{"theta":{"field":"v","type":"quantitative","stack":true},"order":{"field":"v","type":"quantitative","sort":"descending"},"x":{"value":86},"y":{"value":60}},
  "layer":[
   {"mark":{"type":"arc","outerRadius":35,"stroke":"#ffffff","strokeWidth":0.6},"encoding":{"color":{"field":"c","type":"nominal","scale":{"domain":["Lähetteet, Muut","Lähetteet, Päivystys"],"range":["#75d68f","#2f9d57"]},"legend":{"orient":"none","legendX":4.5,"legendY":80,"title":null}}}},
   {"mark":{"type":"text","style":"pl","radius":20},"encoding":{"text":{"field":"lab"}}}]},
 {"data":{"name":"hdr"},"transform":[{"filter":"datum.p == 'lahp'"}],"layer":[
  {"mark":{"type":"text","style":"ttl"},"encoding":{"x":{"value":3.5},"y":{"value":7.5},"text":{"field":"t"}}},
  {"mark":{"type":"text","style":"ico"},"encoding":{"x":{"value":113.5},"y":{"value":6},"text":{"value":"‹"}}},
  {"mark":{"type":"text","style":"ico"},"encoding":{"x":{"value":126.5},"y":{"value":6},"text":{"value":"×"}}},
  {"mark":{"type":"text","style":"bigs"},"encoding":{"x":{"value":3},"y":{"value":25},"text":{"field":"n"}}},
  {"mark":{"type":"text","style":"units"},"encoding":{"x":{"value":130},"y":{"value":21.5},"text":{"field":"u"}}},
  {"mark":{"type":"rule","style":"ul"},"encoding":{"x":{"value":2.5},"x2":{"value":42},"y":{"value":29}}},
  {"mark":{"type":"text","style":"lab"},"encoding":{"x":{"value":3},"y":{"value":39.5},"text":{"field":"yl"}}},
  {"mark":{"type":"text","style":"val"},"encoding":{"x":{"value":21},"y":{"value":39.5},"text":{"field":"pv"}}}
 ]}
]},
{"width":133,"height":106,"layer":[
 {"data":{"name":"kpi"},"transform":[{"filter":"datum.p == 'oa'"}],
  "encoding":{"x":{"field":"m","type":"quantitative","title":null,"scale":{"domain":[0,12],"range":[19,127],"nice":false,"zero":false},"axis":{"values":[1,2,3,4,5,6,7,8,9,10,11,12],"offset":-11.5,"ticks":false,"labelPadding":2.5}},
   "y":{"field":"v","type":"quantitative","title":null,"scale":{"domain":[0,2000],"range":[94.5,54],"nice":false},"axis":{"values":[0,400,800,1200,1600,2000],"offset":-19,"format":"d"}}},
  "layer":[
   {"transform":[{"filter":"datum.s == 'g'"}],"mark":{"type":"area","color":"#efefef"}},
   {"transform":[{"filter":"datum.s == 'c'"}],"mark":{"type":"area","color":"#b7e5f0"}},
   {"transform":[{"filter":"datum.s == 'g' && datum.m >= 1"}],"mark":{"type":"rule","color":"#ffffff","strokeWidth":0.8},"encoding":{"y":{"datum":0},"y2":{"datum":2000}}},
   {"transform":[{"filter":"datum.s == 'g'"}],"mark":{"type":"line","color":"#a5a5a5","strokeWidth":1}},
   {"transform":[{"filter":"datum.s == 'c'"}],"mark":{"type":"line","color":"#2ab3d5","strokeWidth":1}}]},
 {"data":{"name":"hdr"},"transform":[{"filter":"datum.p == 'oa'"}],"layer":[
  {"mark":{"type":"text","style":"ttl"},"encoding":{"x":{"value":3.5},"y":{"value":7.5},"text":{"field":"t"}}},
  {"mark":{"type":"text","style":"ico"},"encoding":{"x":{"value":113.5},"y":{"value":6},"text":{"value":"‹"}}},
  {"mark":{"type":"text","style":"ico"},"encoding":{"x":{"value":126.5},"y":{"value":6},"text":{"value":"×"}}},
  {"mark":{"type":"text","style":"big"},"encoding":{"x":{"value":3},"y":{"value":32.5},"text":{"field":"n"}}},
  {"mark":{"type":"text","style":"unit"},"encoding":{"x":{"value":130.5},"y":{"value":20.5},"text":{"field":"u"}}},
  {"mark":{"type":"rule","style":"ul"},"encoding":{"x":{"value":1},"x2":{"value":131.5},"y":{"value":39.8}}},
  {"mark":{"type":"text","style":"lab"},"encoding":{"x":{"value":3},"y":{"value":48},"text":{"field":"yl"}}},
  {"mark":{"type":"text","style":"val"},"encoding":{"x":{"value":21},"y":{"value":48},"text":{"field":"pv"}}},
  {"mark":{"type":"text","style":"labr"},"encoding":{"x":{"value":111.4},"y":{"value":48},"text":{"field":"ml"}}},
  {"mark":{"type":"text","style":"valr"},"encoding":{"x":{"value":130.5},"y":{"value":48},"text":{"field":"mv"}}}
 ]}
]},
{"width":133,"height":106,"layer":[
 {"data":{"name":"pie"},"transform":[{"filter":"datum.p == 'opd'"}],
  "encoding":{"theta":{"field":"v","type":"quantitative","stack":true},"order":{"field":"v","type":"quantitative","sort":"descending"},"x":{"value":86},"y":{"value":62}},
  "layer":[
   {"mark":{"type":"arc","outerRadius":35,"stroke":"#ffffff","strokeWidth":0.6},"encoding":{"color":{"field":"c","type":"nominal","scale":{"domain":["Diagnoosilla","Ilman"],"range":["#75d68f","#2f9d57"]},"legend":{"orient":"none","legendX":4.5,"legendY":80,"title":null}}}},
   {"mark":{"type":"text","style":"pl","radius":20},"encoding":{"text":{"field":"lab"}}}]},
 {"data":{"name":"hdr"},"transform":[{"filter":"datum.p == 'opd'"}],"layer":[
  {"mark":{"type":"text","style":"ttl"},"encoding":{"x":{"value":3.5},"y":{"value":7.5},"text":{"field":"t"}}},
  {"mark":{"type":"text","style":"ico"},"encoding":{"x":{"value":113.5},"y":{"value":6},"text":{"value":"‹"}}},
  {"mark":{"type":"text","style":"ico"},"encoding":{"x":{"value":126.5},"y":{"value":6},"text":{"value":"×"}}},
  {"mark":{"type":"text","style":"bigs"},"encoding":{"x":{"value":3},"y":{"value":25},"text":{"field":"n"}}},
  {"mark":{"type":"text","style":"units"},"encoding":{"x":{"value":130},"y":{"value":21.5},"text":{"field":"u"}}},
  {"mark":{"type":"rule","style":"ul"},"encoding":{"x":{"value":2.5},"x2":{"value":42},"y":{"value":29}}},
  {"mark":{"type":"text","style":"lab"},"encoding":{"x":{"value":3},"y":{"value":39.5},"text":{"field":"yl"}}},
  {"mark":{"type":"text","style":"val"},"encoding":{"x":{"value":21},"y":{"value":39.5},"text":{"field":"pv"}}}
 ]}
]},
{"width":133,"height":106,"layer":[
 {"data":{"name":"kpi"},"transform":[{"filter":"datum.p == 'hen'"}],
  "encoding":{"x":{"field":"m","type":"quantitative","title":null,"scale":{"domain":[0,12],"range":[19,127],"nice":false,"zero":false},"axis":{"values":[1,2,3,4,5,6,7,8,9,10,11,12],"offset":-11.5,"ticks":false,"labelPadding":2.5}},
   "y":{"field":"v","type":"quantitative","title":null,"scale":{"domain":[0,5000],"range":[94.5,54],"nice":false},"axis":{"values":[0,1000,2000,3000,4000,5000],"offset":-19,"format":"d"}}},
  "layer":[
   {"transform":[{"filter":"datum.s == 'g'"}],"mark":{"type":"area","color":"#efefef"}},
   {"transform":[{"filter":"datum.s == 'c'"}],"mark":{"type":"area","color":"#b7e5f0"}},
   {"transform":[{"filter":"datum.s == 'g' && datum.m >= 1"}],"mark":{"type":"rule","color":"#ffffff","strokeWidth":0.8},"encoding":{"y":{"datum":0},"y2":{"datum":5000}}},
   {"transform":[{"filter":"datum.s == 'g'"}],"mark":{"type":"line","color":"#a5a5a5","strokeWidth":1}},
   {"transform":[{"filter":"datum.s == 'c'"}],"mark":{"type":"line","color":"#2ab3d5","strokeWidth":1}}]},
 {"data":{"name":"hdr"},"transform":[{"filter":"datum.p == 'hen'"}],"layer":[
  {"mark":{"type":"text","style":"ttl"},"encoding":{"x":{"value":3.5},"y":{"value":7.5},"text":{"field":"t"}}},
  {"mark":{"type":"text","style":"ico"},"encoding":{"x":{"value":113.5},"y":{"value":6},"text":{"value":"‹"}}},
  {"mark":{"type":"text","style":"ico"},"encoding":{"x":{"value":126.5},"y":{"value":6},"text":{"value":"×"}}},
  {"mark":{"type":"text","style":"big"},"encoding":{"x":{"value":3},"y":{"value":32.5},"text":{"field":"n"}}},
  {"mark":{"type":"text","style":"unit"},"encoding":{"x":{"value":130.5},"y":{"value":20.5},"text":{"field":"u"}}},
  {"mark":{"type":"rule","style":"ul"},"encoding":{"x":{"value":1},"x2":{"value":131.5},"y":{"value":39.8}}},
  {"mark":{"type":"text","style":"lab"},"encoding":{"x":{"value":3},"y":{"value":48},"text":{"field":"yl"}}},
  {"mark":{"type":"text","style":"val"},"encoding":{"x":{"value":21},"y":{"value":48},"text":{"field":"pv"}}},
  {"mark":{"type":"text","style":"labr"},"encoding":{"x":{"value":107.8},"y":{"value":48},"text":{"field":"ml"}}},
  {"mark":{"type":"text","style":"valr"},"encoding":{"x":{"value":130.5},"y":{"value":48},"text":{"field":"mv"}}}
 ]}
]}
]}
],
"config":{
 "font":"Roboto",
 "view":{"fill":"#ffffff","stroke":"#dddddd","strokeWidth":0.5,"cornerRadius":3},
 "axis":{"labelFontSize":5.5,"labelColor":"#9c9c9c","domainColor":"#d4d4d4","tickColor":"#d4d4d4","tickSize":2,"labelPadding":2,"grid":false,"labelOverlap":false,"labelFlush":false},
 "legend":{"symbolType":"M-1,-0.45H1V0.45H-1Z","symbolSize":144,"symbolStrokeWidth":0,"labelFontSize":5.3,"labelColor":"#444444","labelOffset":2.5,"rowPadding":1.8,"padding":0},
 "style":{
  "ttl":{"fontWeight":"bold","fontSize":6.4,"color":"#1d7aa4","align":"left","baseline":"alphabetic"},
  "ico":{"fontSize":7,"color":"#8a8a8a","align":"center","baseline":"middle","fontWeight":"bold"},
  "big":{"fontWeight":"bold","fontSize":21,"color":"#19a7cf","align":"left","baseline":"alphabetic"},
  "bigs":{"fontWeight":"bold","fontSize":14.5,"color":"#19a7cf","align":"left","baseline":"alphabetic"},
  "unit":{"fontSize":7,"color":"#19a7cf","align":"right","baseline":"alphabetic"},
  "units":{"fontSize":8.5,"color":"#19a7cf","align":"right","baseline":"alphabetic"},
  "ul":{"color":"#5ec6df","strokeWidth":1.5},
  "lab":{"fontSize":6.4,"color":"#8c8c8c","align":"left","baseline":"alphabetic"},
  "val":{"fontSize":6.4,"color":"#333333","fontWeight":"bold","align":"left","baseline":"alphabetic"},
  "labr":{"fontSize":6.4,"color":"#8c8c8c","align":"right","baseline":"alphabetic"},
  "valr":{"fontSize":6.4,"color":"#333333","fontWeight":"bold","align":"right","baseline":"alphabetic"},
  "pl":{"fontSize":5,"color":"#2a2a2a","fontWeight":"bold","align":"center","baseline":"middle"}
 }
}
}
